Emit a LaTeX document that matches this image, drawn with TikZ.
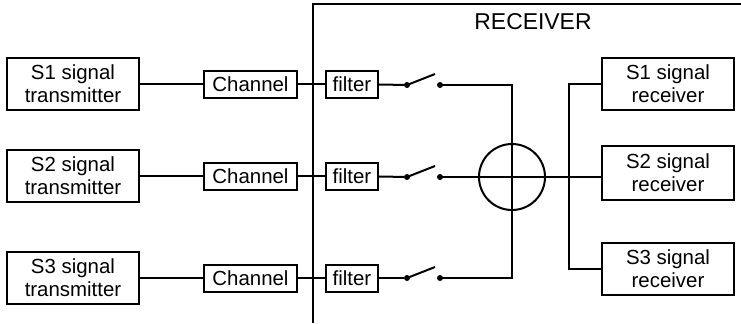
\documentclass[tikz,border=0pt]{standalone}
\usepackage{fontspec}
\setmainfont{Liberation Sans}
\begin{document}
\begin{tikzpicture}[x=1bp,y=-1bp,
  line width=2bp,
  every node/.style={inner sep=0pt, outer sep=0pt},
  bigbox/.style={draw, line width=2bp, minimum width=132bp, minimum height=52bp, align=center,
     font=\fontsize{20.5}{23}\selectfont},
  smallbox/.style={draw, line width=2bp, minimum height=27bp, font=\fontsize{20.5}{23}\selectfont},
  chanbox/.style={smallbox, minimum width=93bp},
  filtbox/.style={smallbox, minimum width=52bp},
  dot/.style={circle, fill, minimum size=6bp}]
\useasboundingbox (0,0) rectangle (741,323);
% receiver frame
\coordinate (ft) at (313,4);
\coordinate (fb) at (313,323);
\coordinate (fr) at (741,4);
\draw (fb) -- (ft) -- (fr);
\node[font=\fontsize{23}{26}\selectfont] (rtitle) at (533,22) {RECEIVER};
% transmitters
\node[bigbox] (t1) at (73,84) {S1 signal\\transmitter};
\node[bigbox] (t2) at (73,176) {S2 signal\\transmitter};
\node[bigbox] (t3) at (73,278) {S3 signal\\transmitter};
% channels
\node[chanbox] (c1) at (250.5,84) {Channel};
\node[chanbox] (c2) at (250.5,176) {Channel};
\node[chanbox] (c3) at (250.5,278) {Channel};
% filters
\node[filtbox] (f1) at (352,84) {filter};
\node[filtbox] (f2) at (352,176) {filter};
\node[filtbox] (f3) at (352,278) {filter};
% switches
\node[dot] (sa1) at (407,85) {};
\node[dot] (sb1) at (440,85) {};
\node[dot] (sa2) at (407,177) {};
\node[dot] (sb2) at (440,177) {};
\node[dot] (sa3) at (407,278) {};
\node[dot] (sb3) at (440,278) {};
\coordinate (bl1) at (435,74);
\coordinate (bl2) at (435,166);
\coordinate (bl3) at (435,267);
% summing junction
\node[circle, draw, line width=2bp, minimum size=66bp] (sum) at (512,177) {};
\coordinate (j1) at (512,85);
\coordinate (j3) at (512,278);
% receivers
\node[bigbox] (r1) at (668,84) {S1 signal\\receiver};
\node[bigbox, minimum height=54bp] (r2) at (668,173) {S2 signal\\receiver};
\node[bigbox] (r3) at (668,268.5) {S3 signal\\receiver};
\coordinate (b1) at (569,84);
\coordinate (b2) at (569,177);
\coordinate (b3) at (569,268.5);
% connectors
\foreach \i in {1,2,3} {
  \draw (t\i) -- (c\i);
  \draw (c\i) -- (f\i);
  \draw (f\i) -- (sa\i);
  \draw (sa\i.center) -- (bl\i);
}
\draw (sb1.center) -- (j1) -- (j3) -- (sb3.center);
\draw (sb2.center) -- (r2.west |- sb2);
\draw (r1.west) -- (b1) -- (b3) -- (r3.west);
\end{tikzpicture}
\end{document}
